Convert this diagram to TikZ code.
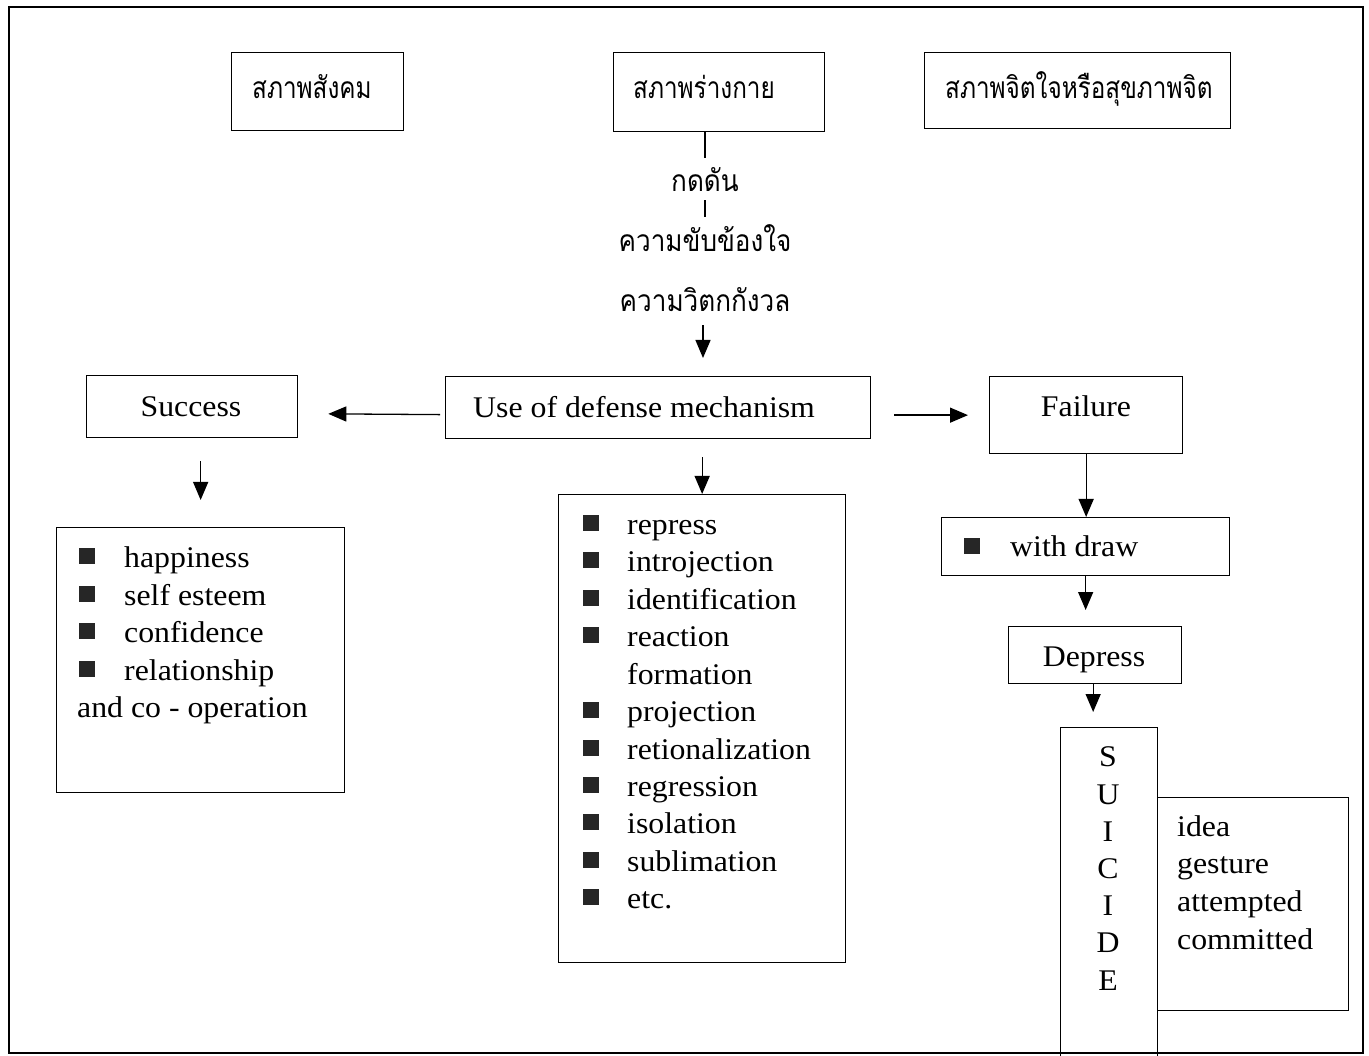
\documentclass[tikz,border=0pt]{standalone}
\usepackage{fontspec}
\setmainfont{Liberation Serif}[FakeStretch=1.06]
\newfontfamily\thai[Script=Thai, FakeStretch=0.81]{Loma}
\newfontfamily\thaiw[Script=Thai, FakeStretch=0.87]{Loma}
\usetikzlibrary{arrows.meta}
\begin{document}
\begin{tikzpicture}[x=1pt,y=-1pt,
  box/.style={draw, line width=1.3pt, inner sep=0pt, anchor=north west},
  txt/.style={inner sep=0pt, font=\fontsize{30}{36}\selectfont, text height=21pt, text depth=7.5pt, yshift=-4pt},
  thtxt/.style={inner sep=0pt, font=\thai\fontsize{30}{36}\selectfont, text height=21pt, text depth=8pt, yshift=-4pt},
  thchain/.style={thtxt, font=\thaiw\fontsize{30}{36}\selectfont},
  bul/.style={fill=black!85, minimum size=16pt, inner sep=0pt},
  arr/.style={line width=1.3pt, -{Triangle[length=18pt,width=15pt]}},
  ln/.style={line width=1.3pt}]
\useasboundingbox (0,0) rectangle (1369,1056);
\clip (0,0) rectangle (1369,1056);
% outer frame
\draw[line width=1.5pt] (9,7) rectangle (1363,1053);

% top boxes
\node[box, minimum width=172pt, minimum height=78pt] (b1) at (231,52) {};
\node[box, minimum width=211pt, minimum height=79pt] (b2) at (613,52) {};
\node[box, minimum width=306pt, minimum height=76pt] (b3) at (924,52) {};
\node[thtxt, anchor=west] (t1) at (252,88) {สภาพสังคม};
\node[thtxt, anchor=west] (t2) at (633,88) {สภาพร่างกาย};
\node[thtxt, anchor=west] (t3) at (945,88) {สภาพจิตใจหรือสุขภาพจิต};

% middle chain
\node[thchain] (kd) at (705,181) {กดดัน};
\node[thchain] (kk) at (705,241) {ความขับข้องใจ};
\node[thchain] (kw) at (705,301) {ความวิตกกังวล};

% main row
\node[box, minimum width=425pt, minimum height=62pt] (def) at (445,376) {};
\node[box, minimum width=211pt, minimum height=62pt] (succ) at (86,375) {};
\node[box, minimum width=193pt, minimum height=77pt] (fail) at (989,376) {};
\node[txt, anchor=west] (tdef) at (473,407) {Use of defense mechanism};
\node[txt] (tsucc) at (191,406) {Success};
\node[txt] (tfail) at (1086,406) {Failure};

% success list
\node[box, minimum width=288pt, minimum height=265pt] (slist) at (56,527) {};
\foreach \t [count=\i] in {happiness,self esteem,confidence,relationship}{
  \node[bul] (sb\i) at (87,{556+37.5*(\i-1)}) {};
  \node[txt, anchor=west] (st\i) at (124,{557+37.5*(\i-1)}) {\t};
}
\node[txt, anchor=west] (st5) at (77,707) {and co - operation};

% defense list
\node[box, minimum width=287pt, minimum height=468pt] (dlist) at (558,494) {};
\foreach \t/\yy/\bb [count=\i] in {repress/524/1,introjection/561/1,identification/599/1,reaction/636/1,formation/674/0,projection/711/1,retionalization/749/1,regression/786/1,isolation/823/1,sublimation/861/1,etc./898/1}{
  \node[txt, anchor=west] (dt\i) at (627,\yy) {\t};
  \ifnum\bb=1 \node[bul] (db\i) at (591,\yy-1) {};\fi
}

% failure branch
\node[box, minimum width=288pt, minimum height=58pt] (wd) at (941,517) {};
\node[bul] (wdb) at (972,546) {};
\node[txt, anchor=west] (twd) at (1010,546) {with draw};
\node[box, minimum width=173pt, minimum height=57pt] (dep) at (1008,626) {};
\node[txt] (tdep) at (1094,656) {Depress};
\node[box, minimum width=97pt, minimum height=360pt] (sui) at (1060,727) {};
\foreach \l/\yy [count=\i] in {S/756,U/794,I/831,C/868,I/905,D/942,E/980}{
  \node[txt] (sl\i) at (1108,\yy) {\l};
}
\node[box, minimum width=191pt, minimum height=213pt] (idea) at (1157,797) {};
\foreach \t/\yy [count=\i] in {idea/826,gesture/863,attempted/901,committed/939}{
  \node[txt, anchor=west] (it\i) at (1177,\yy) {\t};
}

% connectors
\draw[ln, shorten >=12.5pt] (kd.north |- b2.south) -- (kd.north);
\draw[ln, shorten <=0.5pt, shorten >=13.5pt] (kd.south) -- (kk.north);
\draw[arr, shorten <=5.5pt, shorten >=18pt] ([xshift=-2pt]kw.south) -- ([xshift=-2pt]kw.south |- def.north);
\draw[arr, shorten <=5pt, shorten >=30pt] ([yshift=-7pt]def.west) -- ([yshift=-7pt]succ.east);
\draw[arr, shorten <=23pt, shorten >=21pt] (fail.west -| def.east) -- (fail.west);
\draw[arr, shorten <=23pt, shorten >=27pt] (slist.north |- succ.south) -- (slist.north);
\draw[arr, shorten <=18pt] (dlist.north |- def.south) -- (dlist.north);
\draw[arr] (fail.south) -- (fail.south |- wd.north);
\draw[arr, shorten >=16pt] (wd.south) -- (wd.south |- dep.north);
\draw[arr, shorten >=15pt] ([xshift=-2pt]dep.south) -- ([xshift=-2pt]dep.south |- sui.north);
\end{tikzpicture}
\end{document}
